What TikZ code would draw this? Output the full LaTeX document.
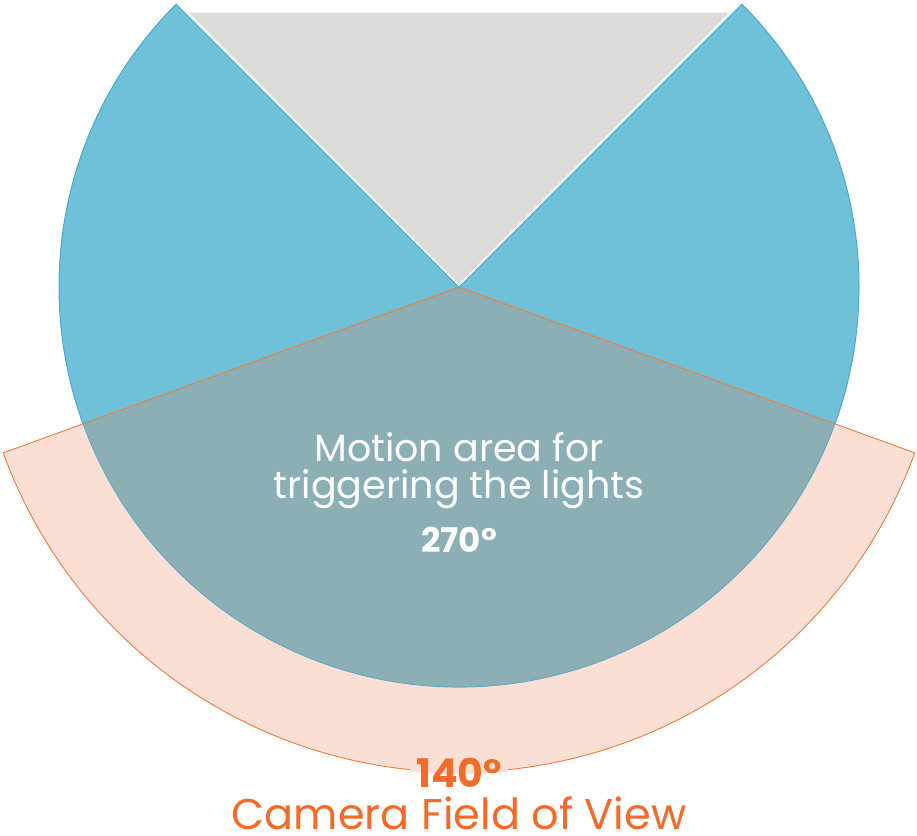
\documentclass[tikz,border=0pt]{standalone}
\usepackage{fontspec}
\setmainfont{Poppins}
\definecolor{bluefill}{HTML}{6FC1D9}
\definecolor{bluestroke}{HTML}{4DA9C9}
\definecolor{grayfill}{HTML}{DBDBDA}
\definecolor{peach}{HTML}{FBDFD4}
\definecolor{orangeline}{HTML}{F07A3E}
\definecolor{overlap}{HTML}{8BAFB5}
\definecolor{orangetext}{HTML}{F26B2B}
\tikzset{
  label/.style={align=center, inner sep=0pt, anchor=base},
}
\begin{document}
\begin{tikzpicture}[x=1pt,y=1pt]
\useasboundingbox (0,0) rectangle (917,835);
\coordinate (C) at (459,548);
% blue 270 sector
\fill[bluefill, draw=bluestroke, line width=1pt] (C) -- ++(45:400) arc[start angle=45, end angle=-225, radius=400] -- cycle;
% gray wedge
\fill[grayfill, draw=white, line width=1.5pt] (459,550) -- (187,823) -- (731,823) -- cycle;
% orange 140 sector
\fill[peach] (C) -- ++(200:485) arc[start angle=200, end angle=340, radius=485] -- cycle;
\draw[orangeline, line width=0.9pt] (C) ++(200:485) arc[start angle=200, end angle=340, radius=485];
% overlap
\begin{scope}
\clip (C) circle[radius=400];
\fill[overlap] (C) -- ++(200:485) arc[start angle=200, end angle=340, radius=485] -- cycle;
\end{scope}
\draw[bluestroke!80!overlap, line width=0.9pt] (C) ++(200:400) arc[start angle=200, end angle=340, radius=400];
\draw[orangeline, line width=0.9pt] (C) ++(200:485) coordinate (L) -- (C) -- ++(340:485) coordinate (R);
% halo behind the 140 label on the arc
\draw[peach, line width=3.5pt] (C) ++(264.2:485.5) arc[start angle=264.2, end angle=275.8, radius=485.5];
% texts
\node[label, text=white, font=\fontsize{38}{37}\selectfont] (motion) at (459,336) {Motion area for\\triggering the lights};
\node[label, text=white, font=\bfseries\fontsize{34}{34}\selectfont] (deg270) at (459,282) {270°};
\node[label, text=orangetext, font=\bfseries\fontsize{39.5}{40}\selectfont] (deg140) at (459,48) {140°};
\node[label, text=orangetext, font=\fontsize{43}{43}\selectfont] (camera) at (459,6) {Camera Field of View};
\end{tikzpicture}
\end{document}
